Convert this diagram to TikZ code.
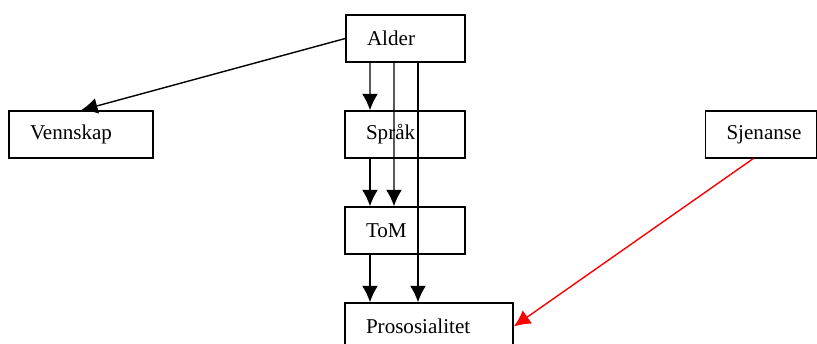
\documentclass[tikz,border=0pt]{standalone}
\usepackage{fontspec}
\setmainfont{Liberation Serif}
\usetikzlibrary{arrows.meta}
\tikzstyle{boks} = [rectangle, draw=black, line width=0.85pt, minimum height=0.94cm, inner xsep=0.42cm, align=left, font=\fontsize{12}{14}\selectfont]
\tikzstyle{pil} = [line width=0.8pt, -{Latex[length=0.33cm,width=0.32cm]}]

\begin{document}
\begin{tikzpicture}[node distance=1.92cm]
        \useasboundingbox (0,0) rectangle (16.34,-6.86);
        \node[boks, text width=1.54cm] (alder) at (8.11,-0.77) {Alder};
        \node[boks, text width=1.56cm, below of=alder, xshift=-0.01cm] (sprak) {Språk};
        \node[boks, text width=1.56cm, below of=sprak] (tom) {ToM};
        \node[boks, text width=2.52cm, below of=tom, xshift=0.48cm] (pros) {Prososialitet};
        \node[boks, text width=2.04cm, left of=sprak, node distance=6.48cm] (vennskap) {Vennskap};
        \node[boks, text width=1.38cm, right of=sprak, node distance=7.12cm] (sjenanse) {Sjenanse};

        \draw [pil] (alder.west) -- (vennskap.north);
        \draw [pil] ([xshift=-0.71cm]alder.south) -- ([xshift=-0.7cm]sprak.north);
        \draw [pil] ([xshift=-0.23cm]alder.south) -- ([xshift=-0.22cm]tom.north);
        \draw [pil] ([xshift=0.25cm]alder.south) -- ([xshift=0.25cm]alder.south |- pros.north);
        \draw [pil] ([xshift=-0.7cm]sprak.south) -- ([xshift=-0.7cm]tom.north);
        \draw [pil] ([xshift=-0.7cm]tom.south) -- ([xshift=-0.7cm]tom.south |- pros.north);
        \draw [pil, red] ([xshift=-0.16cm]sjenanse.south) -- (pros.east);
    \end{tikzpicture}
\end{document}
